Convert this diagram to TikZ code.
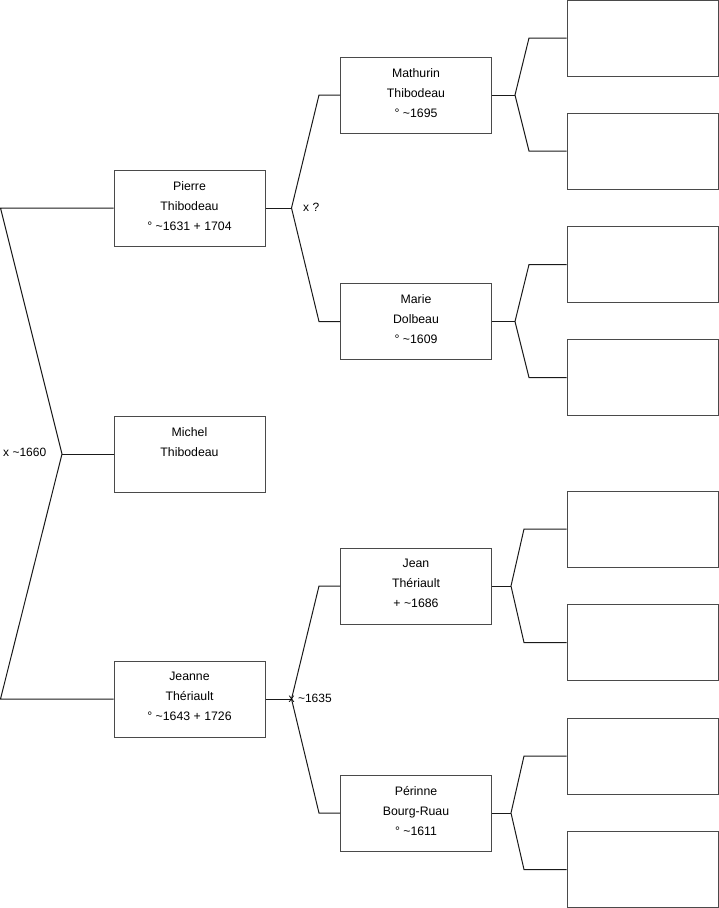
\documentclass[tikz,border=0pt]{standalone}
\usepackage{fontspec}
\setmainfont{Liberation Sans}
\usepackage{tikz}
\definecolor{TreeBox}{HTML}{4A4A4A}
\definecolor{TreeLine}{HTML}{1A1A1A}

\begin{document}
\begin{tikzpicture}[x=1pt,y=-1pt,
  person/.style={draw=TreeBox,line width=1pt,minimum width=151pt,minimum height=76pt,inner sep=0pt,align=center,text depth=4.5pt,font=\fontsize{12.3}{20}\selectfont},
  link/.style={draw=TreeLine,line width=1pt},
  union/.style={anchor=west,inner sep=0pt,font=\fontsize{12}{14}\selectfont}]
\path[use as bounding box] (0,0) rectangle (719,908);
\node[person] (michel) at (189.5,454) {Michel\\Thibodeau\\\mbox{}};
\node[person] (pierre) at (189.5,208) {Pierre\\Thibodeau\\° \textasciitilde1631 + 1704};
\node[person] (jeanne) at (189.5,699) {Jeanne\\Thériault\\° \textasciitilde1643 + 1726};
\node[person] (mathurin) at (416,95) {Mathurin\\Thibodeau\\° \textasciitilde1695};
\node[person] (marie) at (416,321.5) {Marie\\Dolbeau\\° \textasciitilde1609};
\node[person] (jean) at (416,586) {Jean\\Thériault\\+ \textasciitilde1686};
\node[person] (perinne) at (416,813) {Périnne\\Bourg-Ruau\\° \textasciitilde1611};
\node[person] (e1) at (642.5,38) {};
\node[person] (e2) at (642.5,151) {};
\node[person] (e3) at (642.5,264.5) {};
\node[person] (e4) at (642.5,377.5) {};
\node[person] (e5) at (642.5,529) {};
\node[person] (e6) at (642.5,642.5) {};
\node[person] (e7) at (642.5,756) {};
\node[person] (e8) at (642.5,869.5) {};
\coordinate (up1) at (0.5,208);
\coordinate (fork1) at (62,454);
\coordinate (dn1) at (0.5,699);
\draw[link] (pierre.west) -- (up1) -- (fork1) -- (dn1) -- (jeanne.west);
\draw[link] (fork1) -- (michel.west);
\node[union] (wed1) at (3,452) {x \textasciitilde1660};
\coordinate (up2) at (319,95);
\coordinate (fork2) at (291.5,208);
\coordinate (dn2) at (319,321.5);
\draw[link] (mathurin.west) -- (up2) -- (fork2) -- (dn2) -- (marie.west);
\draw[link] (pierre.east) -- (fork2);
\node[union] (wed2) at (303,207) {x ?};
\coordinate (up3) at (319,586);
\coordinate (fork3) at (291.5,699);
\coordinate (dn3) at (319,813);
\draw[link] (jean.west) -- (up3) -- (fork3) -- (dn3) -- (perinne.west);
\draw[link] (jeanne.east) -- (fork3);
\node[union] (wed3) at (288.5,698) {x \textasciitilde1635};
\coordinate (up4) at (529,38);
\coordinate (fork4) at (515,95);
\coordinate (dn4) at (529,151);
\draw[link] (e1.west) -- (up4) -- (fork4) -- (dn4) -- (e2.west);
\draw[link] (mathurin.east) -- (fork4);
\coordinate (up5) at (529,264.5);
\coordinate (fork5) at (515,321.5);
\coordinate (dn5) at (529,377.5);
\draw[link] (e3.west) -- (up5) -- (fork5) -- (dn5) -- (e4.west);
\draw[link] (marie.east) -- (fork5);
\coordinate (up6) at (524,529);
\coordinate (fork6) at (511,586);
\coordinate (dn6) at (524,642.5);
\draw[link] (e5.west) -- (up6) -- (fork6) -- (dn6) -- (e6.west);
\draw[link] (jean.east) -- (fork6);
\coordinate (up7) at (524,756);
\coordinate (fork7) at (511,813);
\coordinate (dn7) at (524,869.5);
\draw[link] (e7.west) -- (up7) -- (fork7) -- (dn7) -- (e8.west);
\draw[link] (perinne.east) -- (fork7);
\end{tikzpicture}
\end{document}
